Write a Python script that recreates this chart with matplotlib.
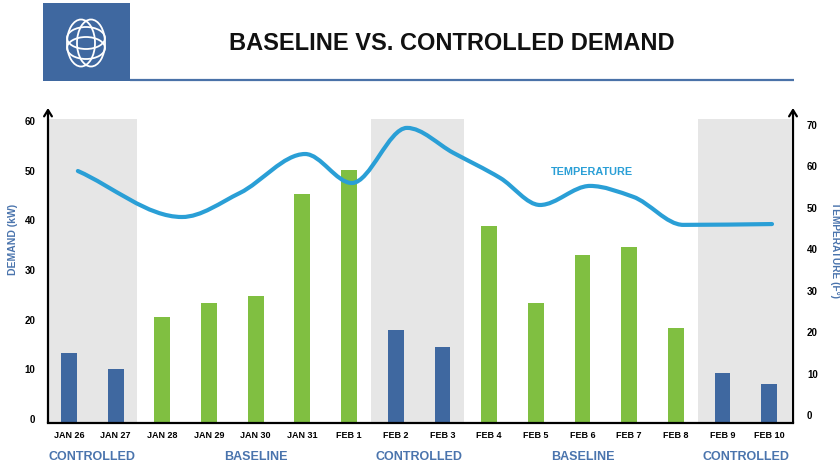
import numpy as np
import matplotlib
matplotlib.use("Agg")
import matplotlib.pyplot as plt
from matplotlib.patches import Rectangle, Ellipse, PathPatch
from matplotlib.path import Path
from matplotlib.transforms import ScaledTranslation, blended_transform_factory

plt.rcParams["font.family"] = ["Liberation Sans", "DejaVu Sans"]
plt.rcParams["font.weight"] = "bold"

# data
DAYS = ["JAN 26", "JAN 27", "JAN 28", "JAN 29", "JAN 30", "JAN 31", "FEB 1", "FEB 2",
        "FEB 3", "FEB 4", "FEB 5", "FEB 6", "FEB 7", "FEB 8", "FEB 9", "FEB 10"]
DEMAND = [14.1, 10.9, 21.4, 24.2, 25.6, 46.2, 51.0, 18.8,
          15.3, 39.7, 24.2, 33.9, 35.5, 19.2, 10.1, 7.9]
PERIODS = ["CONTROLLED", "BASELINE", "CONTROLLED", "BASELINE", "CONTROLLED"]
PERIOD_DAYS = [2, 5, 2, 5, 2]
# temperature trace (day position, deg F)
TEMP_X = [0.19, 2.42, 3.66, 5.06, 6.06, 7.24, 8.23, 9.24, 10.09, 11.16, 12.08, 13.16, 15.06]
TEMP_F = [58.9, 47.8, 53.6, 63.0, 56.0, 69.3, 63.3, 57.2, 50.7, 55.3, 52.7, 45.9, 46.1]

BLUE = "#3f68a0"
GREEN = "#80bf41"
SHADE = "#e6e6e6"
LINE = "#2a9fd6"
LABEL_BLUE = "#4a74ad"


def smooth_path(xs, ys):
    """monotone cubic through the points, as bezier segments"""
    xs = np.asarray(xs, float)
    ys = np.asarray(ys, float)
    h = np.diff(xs)
    d = np.diff(ys) / h
    m = np.zeros_like(ys)
    m[0], m[-1] = d[0], d[-1]
    for i in range(1, len(xs) - 1):
        if d[i - 1] * d[i] > 0:
            w1 = 2 * h[i] + h[i - 1]
            w2 = h[i] + 2 * h[i - 1]
            m[i] = (w1 + w2) / (w1 / d[i - 1] + w2 / d[i])
    verts = [(xs[0], ys[0])]
    codes = [Path.MOVETO]
    for i in range(len(xs) - 1):
        verts += [(xs[i] + h[i] / 3, ys[i] + m[i] * h[i] / 3),
                  (xs[i + 1] - h[i] / 3, ys[i + 1] - m[i + 1] * h[i] / 3),
                  (xs[i + 1], ys[i + 1])]
        codes += [Path.CURVE4] * 3
    return Path(verts, codes)


W, H = 840, 465
fig = plt.figure(figsize=(W / 100, H / 100), dpi=100)

# header overlay in pixel coords
hdr = fig.add_axes([0, 0, 1, 1])
hdr.set_xlim(0, W)
hdr.set_ylim(H, 0)
hdr.axis("off")
hdr.add_patch(Rectangle((43, 3), 87, 78, color=BLUE, lw=0))
hdr.plot([130, 794], [80.5, 80.5], color="#4a72a8", lw=1.6, solid_capstyle="butt")
# logo: two tall rings side by side, two wide rings stacked
for cx, cy, ew, eh in [(81, 43, 28, 47), (91, 43, 28, 47), (86, 38, 38, 22), (86, 48, 38, 22)]:
    hdr.add_patch(Ellipse((cx, cy), ew, eh, fill=False, ec="white", lw=1.3))
hdr.text(452, 44, "BASELINE VS. CONTROLLED DEMAND", ha="center", va="center",
         fontsize=17, fontweight="bold", color="#111111")
hdr.text(13, 239, "DEMAND (kW)", rotation=90, ha="center", va="center",
         fontsize=7.5, color=LABEL_BLUE)
hdr.text(835, 250, "TEMPERATURE (F°)", rotation=270, ha="center", va="center",
         fontsize=7.3, color=LABEL_BLUE)

# main chart
ax = fig.add_axes([48 / W, (H - 423) / H, (793 - 48) / W, (423 - 108) / H])
x = np.arange(len(DAYS))
kind = [p for p, n in zip(PERIODS, PERIOD_DAYS) for _ in range(n)]
colors = [BLUE if k == "CONTROLLED" else GREEN for k in kind]

ax.set_xlim(-0.45, 15.51)
ax.set_ylim(0, 63.5)

start = 0
starts = []
for p, n in zip(PERIODS, PERIOD_DAYS):
    starts.append(start)
    if p == "CONTROLLED":
        ax.fill_between([max(start - 0.52, -0.42), start + n - 0.54], 0, 61.3,
                        color=SHADE, lw=0, zorder=0)
    start += n

ax.bar(x, DEMAND, width=0.34, color=colors, zorder=2)

ax.set_xticks(x)
ax.set_xticklabels(DAYS, fontsize=6.5, fontweight="bold")
ax.set_yticks(range(0, 61, 10))
ax.tick_params(axis="both", length=0)
ax.tick_params(axis="x", pad=6)
ax.tick_params(axis="y", labelsize=7, pad=9)
for lab in ax.get_yticklabels():
    lab.set_transform(lab.get_transform() + ScaledTranslation(0, 3 / 72, fig.dpi_scale_trans))
for s in ["top", "left", "right"]:
    ax.spines[s].set_visible(False)
ax.spines["bottom"].set_linewidth(1.6)

trans = blended_transform_factory(ax.transData, ax.transAxes)
for p, s0, n in zip(PERIODS, starts, PERIOD_DAYS):
    ax.text(s0 + (n - 1) / 2, -0.108, p, transform=trans, ha="center", va="center",
            fontsize=9, fontweight="bold", color=LABEL_BLUE)

# arrows for the vertical axes
arrow = dict(arrowstyle="->,head_length=0.45,head_width=0.28", lw=1.6, color="black",
             shrinkA=0, shrinkB=0)
ax.annotate("", xy=(0, 1), xytext=(0, 0), xycoords="axes fraction", arrowprops=arrow)
ax.annotate("", xy=(1, 1), xytext=(1, 0), xycoords="axes fraction", arrowprops=arrow)

ax2 = ax.twinx()
ax2.set_ylim(-1.9, 74.1)
ax2.set_yticks(range(0, 71, 10))
ax2.tick_params(axis="y", length=0, labelsize=7, pad=10)
for s in ax2.spines.values():
    s.set_visible(False)
ax2.add_patch(PathPatch(smooth_path(TEMP_X, TEMP_F), fill=False, ec=LINE, lw=3,
                        capstyle="round", joinstyle="round", zorder=3))
ax2.text(11.2, 58.7, "TEMPERATURE", ha="center", va="center", fontsize=7.8,
         fontweight="bold", color=LINE)

fig.savefig("out.png", dpi=100)
